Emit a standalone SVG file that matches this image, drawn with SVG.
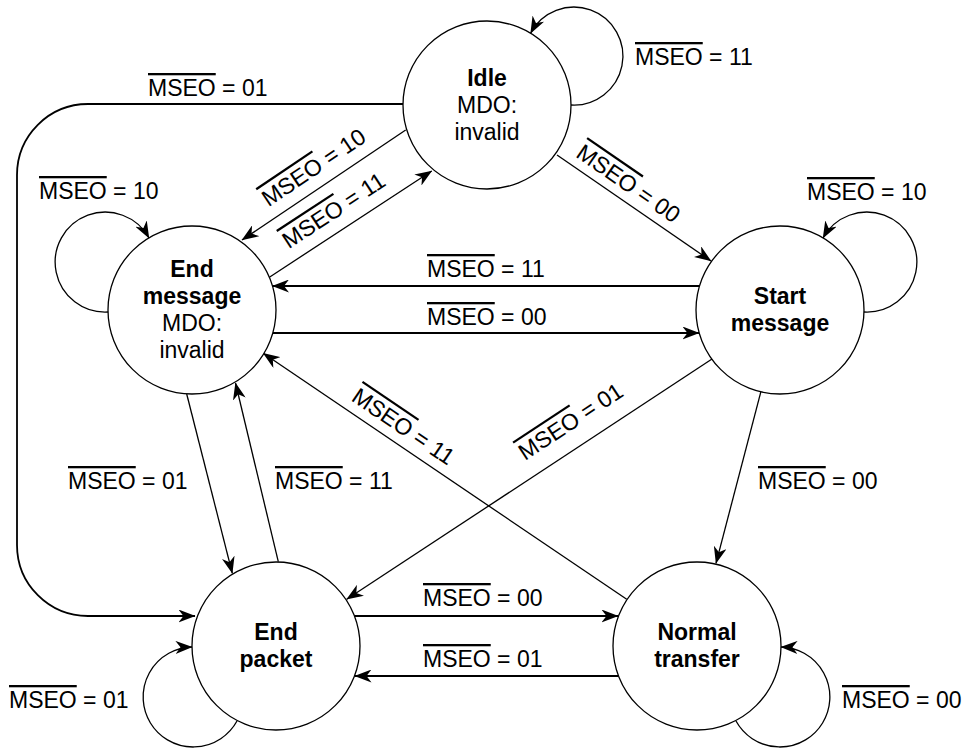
<svg xmlns="http://www.w3.org/2000/svg" width="967" height="749" viewBox="0 0 967 749">
<defs>
<marker id="ah" viewBox="0 0 17 13" markerWidth="17" markerHeight="13" refX="16.5" refY="6.5" orient="auto" markerUnits="userSpaceOnUse">
<path d="M0,0 L17,6.5 L0,13 L5,6.5 Z" fill="#000"/>
</marker>
<style>
.node{fill:#fff;stroke:#000;stroke-width:1.3}
.nt{font-family:"Liberation Sans",Arial,sans-serif;font-size:23px;fill:#000;text-anchor:middle}
.b{font-weight:bold}
.c{fill:none;stroke:#000;stroke-width:1.3}
.h{stroke-width:1.8}
.a{marker-end:url(#ah)}
.lbl{font-family:"Liberation Sans",Arial,sans-serif;font-size:23px;fill:#000}
.m{text-anchor:middle}
.ov{text-decoration:overline}
</style>
</defs>
<rect width="967" height="749" fill="#fff"/>
<g id="connectors">
<path class="c a" d="M557,155 L711,261"/>
<path class="c a" d="M405.7,130 L242,240"/>
<path class="c a" d="M269.4,277.2 L431.7,171"/>
<path class="c h a" d="M699.5,286 L272.5,286"/>
<path class="c h a" d="M272.8,333 L699,333"/>
<path class="c h a" d="M403,104 L88,104 A71,71 0 0 0 17,175 L17,545 A71,71 0 0 0 88,616 L195,616"/>
<path class="c a" d="M760.9,391.7 L716,563.3"/>
<path class="c a" d="M712,359 L346.7,599.3"/>
<path class="c a" d="M626.7,599.3 L263.3,353.3"/>
<path class="c a" d="M186.7,394 L232.3,573.3"/>
<path class="c a" d="M278.3,561.7 L235.5,383"/>
<path class="c h a" d="M354.5,616 L618,616"/>
<path class="c h a" d="M618.5,676 L355,676"/>
<path class="c a" d="M571,105 A49,49 0 1 0 530.6,33.2"/>
<path class="c a" d="M108,312 A50,50 0 1 1 149,238"/>
<path class="c a" d="M864,312 A50,50 0 1 0 823,238"/>
<path class="c a" d="M237,721 A50,50 0 1 1 192,647"/>
<path class="c a" d="M736,721 A50,50 0 1 0 781,647"/>
</g>
<g id="labels">
<text class="lbl" x="635" y="65"><tspan class="ov">MSEO</tspan> = 11</text>
<text class="lbl" x="148" y="96"><tspan class="ov">MSEO</tspan> = 01</text>
<text class="lbl" x="39" y="199"><tspan class="ov">MSEO</tspan> = 10</text>
<text class="lbl" x="807" y="200"><tspan class="ov">MSEO</tspan> = 10</text>
<text class="lbl" x="427" y="277"><tspan class="ov">MSEO</tspan> = 11</text>
<text class="lbl" x="427" y="325"><tspan class="ov">MSEO</tspan> = 00</text>
<text class="lbl" x="68" y="489"><tspan class="ov">MSEO</tspan> = 01</text>
<text class="lbl" x="275" y="489"><tspan class="ov">MSEO</tspan> = 11</text>
<text class="lbl" x="758" y="489"><tspan class="ov">MSEO</tspan> = 00</text>
<text class="lbl" x="423" y="606"><tspan class="ov">MSEO</tspan> = 00</text>
<text class="lbl" x="423" y="667"><tspan class="ov">MSEO</tspan> = 01</text>
<text class="lbl" x="9" y="708"><tspan class="ov">MSEO</tspan> = 01</text>
<text class="lbl" x="842" y="708"><tspan class="ov">MSEO</tspan> = 00</text>
<text class="lbl m" transform="translate(624,190) rotate(34.5)"><tspan class="ov">MSEO</tspan> = 00</text>
<text class="lbl m" transform="translate(318,174) rotate(-33.9)"><tspan class="ov">MSEO</tspan> = 10</text>
<text class="lbl m" transform="translate(338,217) rotate(-33.2)"><tspan class="ov">MSEO</tspan> = 11</text>
<text class="lbl m" transform="translate(575,428) rotate(-33.4)"><tspan class="ov">MSEO</tspan> = 01</text>
<text class="lbl m" transform="translate(399,433) rotate(34.1)"><tspan class="ov">MSEO</tspan> = 11</text>
</g>
<g id="idle">
<circle class="node" cx="487" cy="105" r="84"/>
<text class="nt b" x="487" y="86">Idle</text>
<text class="nt" x="487" y="113">MDO:</text>
<text class="nt" x="487" y="140">invalid</text>
</g>
<g id="end-message">
<circle class="node" cx="192" cy="310" r="84"/>
<text class="nt b" x="192" y="277">End</text>
<text class="nt b" x="192" y="304">message</text>
<text class="nt" x="192" y="331">MDO:</text>
<text class="nt" x="192" y="358">invalid</text>
</g>
<g id="start-message">
<circle class="node" cx="780" cy="310" r="84"/>
<text class="nt b" x="780" y="304">Start</text>
<text class="nt b" x="780" y="331">message</text>
</g>
<g id="end-packet">
<circle class="node" cx="276" cy="646" r="84"/>
<text class="nt b" x="276" y="640">End</text>
<text class="nt b" x="276" y="667">packet</text>
</g>
<g id="normal-transfer">
<circle class="node" cx="697" cy="646" r="84"/>
<text class="nt b" x="697" y="640">Normal</text>
<text class="nt b" x="697" y="667">transfer</text>
</g>
</svg>
